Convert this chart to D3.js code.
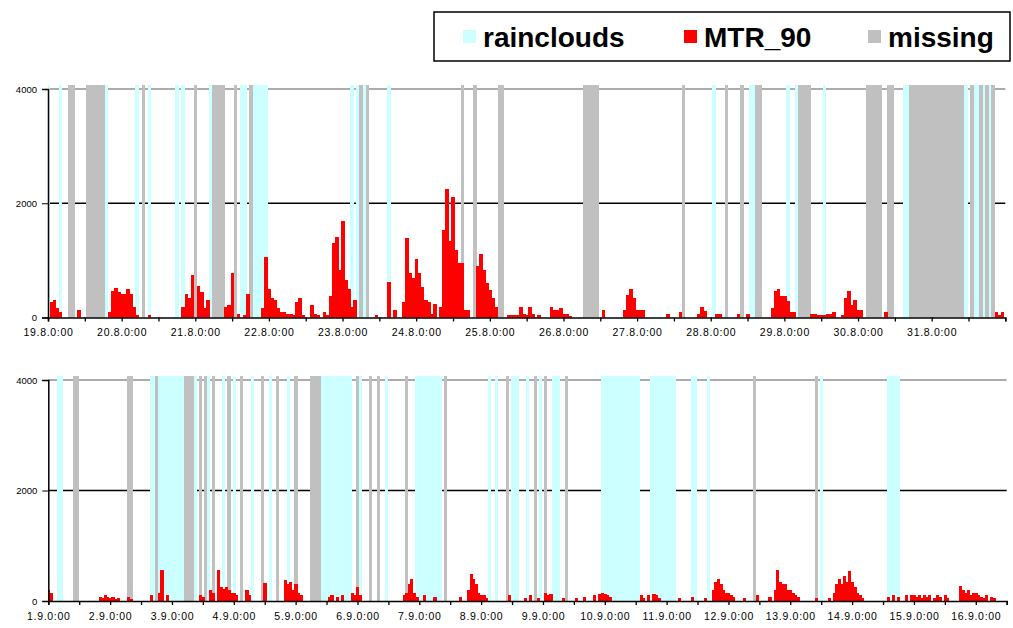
<!DOCTYPE html>
<html>
<head>
<meta charset="utf-8">
<script src="https://cdn.jsdelivr.net/npm/d3@7"></script>
<style>
body { margin: 0; background: #fff; }
text { font-family: "Liberation Sans", Arial, sans-serif; }
</style>
</head>
<body>
<svg id="chart" width="1013" height="628"></svg>
<script>
// legend names
var seriesNames = ["rainclouds", "MTR_90", "missing"];
var yTickValues = [0, 2000, 4000];

// panel 1: 19.8. 0:00 - 1.9. 0:00, hourly MTR_90 (one row per day)
var topStart = new Date(2008, 7, 19, 0);
var topEnd = new Date(2008, 8, 1, 0);
var topMTR = [
  0,275,315,160,100,0,0,0,0,0,128,0,0,0,0,0,0,0,0,0,100,467,525,444,
  409,409,496,409,187,41,0,0,0,41,0,0,0,0,0,0,0,0,0,0,187,403,350,742,
  0,555,438,158,315,0,0,0,0,0,187,216,771,0,70,0,41,409,0,0,0,0,158,1051,
  496,350,315,158,100,100,70,70,41,275,333,41,0,0,216,70,41,0,100,41,374,1297,1413,829,
  1688,654,491,187,315,0,0,0,0,0,0,41,0,0,0,625,0,128,0,0,275,1384,771,683,
  1016,771,537,304,275,70,234,0,187,1530,2243,1343,2114,1180,958,958,128,128,0,0,900,1109,829,607,
  479,333,187,0,0,0,41,41,41,41,187,70,41,187,70,0,41,0,0,0,187,128,140,158,
  70,70,23,0,0,0,0,0,0,0,0,0,0,128,0,0,0,0,0,0,128,391,491,333,
  128,128,128,0,0,0,0,0,0,0,70,0,0,0,100,0,0,0,0,0,70,187,117,0,
  0,0,70,70,0,0,0,0,0,70,0,0,70,0,0,0,0,0,0,0,158,467,491,374,
  374,292,100,100,0,0,0,0,0,70,70,41,41,41,70,70,100,0,0,41,333,467,216,315,
  128,128,0,0,0,0,0,0,0,100,0,0,0,0,0,0,0,0,0,0,0,0,0,0,
  0,0,0,0,0,0,0,0,0,0,0,0,0,0,0,0,0,0,0,0,0,100,41,100
];
// hours (from panel start) flagged as rainclouds / missing
var topRain = [0,4,19,29,33,42,44,53,63,64,67,68,69,70,71,99,101,103,111,217,229,230,241,244,253,279,280,299,302,303,305,307];
var topMissing = [7,8,13,14,15,16,17,18,31,48,54,55,56,57,61,66,102,104,135,139,147,148,175,176,177,178,179,207,221,226,231,232,245,246,247,248,267,268,269,270,271,274,275,281,282,283,284,285,286,287,288,289,290,291,292,293,294,295,296,297,298,301,304,306,308];

// panel 2: 1.9. 0:00 - 16.9. 12:00
var botStart = new Date(2008, 8, 1, 0);
var botEnd = new Date(2008, 8, 16, 12);
var botMTR = [
  200,150,0,0,0,0,0,0,0,0,0,0,0,0,0,0,0,0,0,0,80,60,100,80,
  60,80,40,60,0,0,0,80,40,0,0,0,0,0,0,0,100,0,0,150,560,0,100,0,
  0,0,0,0,0,0,0,0,0,0,0,100,80,0,0,200,150,0,560,250,220,250,200,150,
  150,100,0,0,0,200,100,0,0,0,0,0,330,0,0,0,0,0,0,0,380,300,350,200,
  300,150,100,0,0,0,0,0,0,0,0,0,0,80,100,0,80,0,100,0,0,0,150,100,
  250,100,0,0,0,0,0,0,0,0,0,0,0,0,0,0,0,0,100,150,300,400,150,80,
  0,0,100,0,0,0,80,0,0,0,0,0,0,0,0,0,80,0,0,200,480,400,300,150,
  100,100,50,0,0,0,0,0,0,0,0,100,0,0,0,0,0,60,0,100,0,0,60,0,
  0,150,100,120,0,0,0,0,60,0,0,0,0,60,0,0,80,0,0,0,100,0,120,150,
  120,100,80,0,0,0,0,0,0,0,0,0,0,0,100,60,0,100,0,120,100,60,0,0,
  0,0,0,0,0,60,0,0,0,0,80,0,0,0,0,60,0,0,200,350,400,300,200,150,
  150,100,80,0,0,0,60,0,0,0,0,100,0,0,0,0,80,0,200,560,350,300,300,200,
  200,150,100,80,0,0,0,0,0,0,60,0,0,0,0,60,0,150,300,400,300,450,350,550,
  350,250,150,100,60,0,0,0,0,0,0,0,0,0,80,0,100,0,80,0,0,100,0,100,
  100,80,100,60,100,80,100,0,60,100,80,0,100,60,0,0,0,0,280,200,150,200,100,150,
  150,100,80,60,100,0,80,60,0,0,0,0
];
var botRain = [4,5,40,41,43,44,45,46,47,48,49,50,51,52,57,62,68,72,79,86,93,106,107,108,109,110,111,112,113,114,115,116,117,121,131,143,144,145,146,147,148,149,150,151,152,171,174,180,181,182,186,191,196,197,198,215,216,217,218,219,220,221,222,223,224,225,226,227,228,229,234,235,236,237,238,239,240,241,242,243,250,251,256,300,326,327,328,329,330];
var botMissing = [10,11,31,32,42,53,54,55,56,59,61,64,70,75,83,89,96,102,103,104,105,120,125,128,139,154,178,189,193,201,274,298];

var colors = { rain: "#ccffff", mtr: "#ff0000", missing: "#c0c0c0" };
var svg = d3.select("#chart");
var fmt = d3.timeFormat("%-d.%-m.%-H:%M");

function drawPanel(id, start, end, mtr, rain, missing, left, right, top, bottom) {
  var x = d3.scaleTime().domain([start, end]).range([left, right]);
  var y = d3.scaleLinear().domain([0, 4000]).range([bottom, top]);
  var bw = x(d3.timeHour.offset(start, 1)) - x(start);
  var g = svg.append("g");

  g.append("clipPath").attr("id", id)
    .append("rect").attr("x", left).attr("y", top - 5)
    .attr("width", right - left).attr("height", bottom - top + 5);

  // top border + 2000 grid line
  g.append("line").attr("x1", left).attr("x2", right)
    .attr("y1", y(4000)).attr("y2", y(4000))
    .attr("stroke", "#909090").attr("stroke-width", 1.5);
  g.append("line").attr("x1", left).attr("x2", right)
    .attr("y1", y(2000)).attr("y2", y(2000))
    .attr("stroke", "#000").attr("stroke-width", 1.5);

  var plot = g.append("g").attr("clip-path", "url(#" + id + ")")
    .attr("shape-rendering", "crispEdges");

  function hx(h) { return x(d3.timeHour.offset(start, h)) - bw / 2; }

  // bands
  plot.selectAll(".rain").data(rain).enter().append("rect")
    .attr("x", hx).attr("width", bw + 0.6)
    .attr("y", y(4000) - 4).attr("height", y(0) - y(4000) + 4)
    .attr("fill", colors.rain);
  plot.selectAll(".miss").data(missing).enter().append("rect")
    .attr("x", hx).attr("width", bw + 0.6)
    .attr("y", y(4000) - 4).attr("height", y(0) - y(4000) + 4)
    .attr("fill", colors.missing);

  // MTR bars
  plot.selectAll(".mtr").data(mtr).enter().append("rect")
    .attr("x", function(d, i) { return hx(i); })
    .attr("width", bw + 0.6)
    .attr("y", function(d) { return y(d); })
    .attr("height", function(d) { return y(0) - y(d); })
    .attr("fill", colors.mtr);

  // y axis
  var ya = d3.axisLeft(y).tickValues(yTickValues).tickSize(6).tickFormat(d3.format("d"));
  g.append("g").attr("transform", "translate(" + left + ",0)").call(ya)
    .call(function(s) {
      s.select(".domain").attr("stroke", "#000").attr("stroke-width", 1.5);
      s.selectAll("text").attr("font-size", 9.5).attr("font-family", "Liberation Sans, Arial").attr("dx", -2);
    });

  // x axis, ticks every 12h, labels at midnight
  var xa = d3.axisBottom(x).ticks(d3.timeHour.every(12)).tickSize(4)
    .tickFormat(function(d) { return (d.getHours() === 0 && +d !== +end) ? fmt(d) : ""; });
  g.append("g").attr("transform", "translate(0," + bottom + ")").call(xa)
    .call(function(s) {
      s.select(".domain").attr("stroke", "#000").attr("stroke-width", 1.5);
      s.selectAll("line").attr("stroke-width", 1.3);
      s.selectAll("text").attr("font-size", 10.5).attr("letter-spacing", 0.7)
        .attr("font-family", "Liberation Sans, Arial").attr("dy", "1.1em");
    });
}

drawPanel("clipTop", topStart, topEnd, topMTR, topRain, topMissing, 48, 1005.3, 89, 317.5);
drawPanel("clipBot", botStart, botEnd, botMTR, botRain, botMissing, 48.3, 1006.7, 380, 601);

// legend
var lg = svg.append("g");
lg.append("rect").attr("x", 434).attr("y", 12).attr("width", 576).attr("height", 49)
  .attr("fill", "#fff").attr("stroke", "#000").attr("stroke-width", 1.5);
var legendX = [463, 684, 868];
var legendColors = [colors.rain, colors.mtr, colors.missing];
seriesNames.forEach(function(n, i) {
  lg.append("rect").attr("x", legendX[i]).attr("y", 30).attr("width", 13).attr("height", 13)
    .attr("fill", legendColors[i]);
  lg.append("text").attr("x", legendX[i] + 20).attr("y", 47)
    .attr("font-size", 28).attr("font-weight", "bold").text(n);
});
</script>
</body>
</html>
